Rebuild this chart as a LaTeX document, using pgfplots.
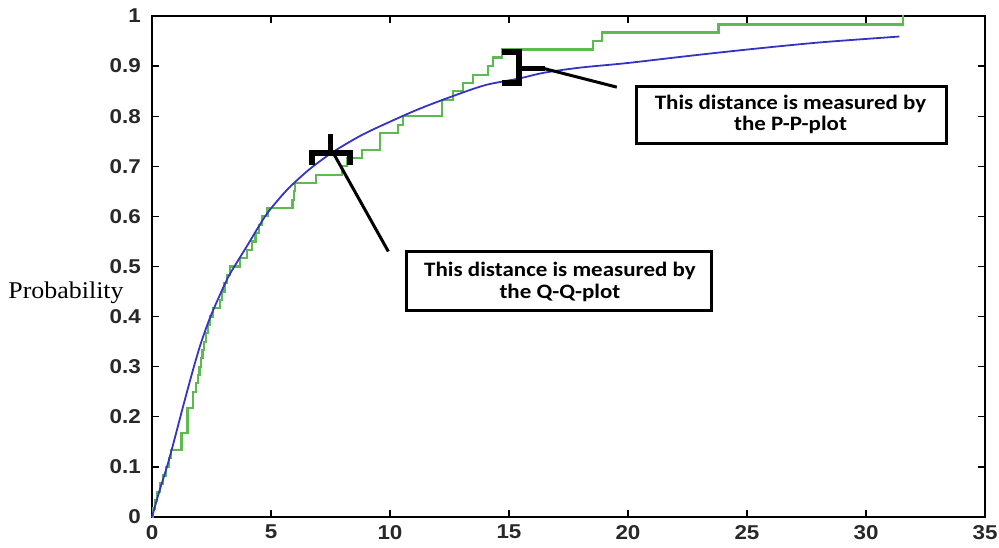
\documentclass[border=0pt]{standalone}
\usepackage{fontspec}
\usepackage{pgfplots}
\pgfplotsset{compat=1.18}
\newfontfamily\tickfont{Liberation Sans}[FakeStretch=1.12]
\newfontfamily\boxfont{Carlito}[FakeStretch=1.12]
\newfontfamily\labfont{Liberation Serif}[FakeStretch=1.08]
\definecolor{mblue}{RGB}{52,52,196}
\definecolor{mgreen}{RGB}{92,186,80}
\definecolor{ticktext}{RGB}{40,40,40}
\begin{document}
\begin{tikzpicture}
\path[use as bounding box] (-152bp,-31bp) rectangle (847bp,517bp);
\begin{axis}[
  at={(0,0)}, anchor=south west,
  scale only axis, width=833bp, height=501bp,
  xmin=0, xmax=35, ymin=0, ymax=1,
  xtick={0,5,10,15,20,25,30,35},
  ytick={0,0.1,0.2,0.3,0.4,0.5,0.6,0.7,0.8,0.9,1},
  xticklabels={0,5,10,15,20,25,30,35},
  yticklabels={0,0.1,0.2,0.3,0.4,0.5,0.6,0.7,0.8,0.9,1},
  tick align=inside, tick pos=both,
  major tick length=7bp,
  axis line style={line width=1.5bp},
  tick style={line width=1.3bp, black},
  tick label style={font=\tickfont\bfseries\fontsize{20bp}{24bp}\selectfont, text=ticktext, inner sep=0pt},
  xticklabel style={yshift=-8bp},
  yticklabel style={xshift=-11bp},
  ylabel={Probability},
  ylabel style={at={(axis description cs:-0.1032,0.447)}, rotate=-90, anchor=center, font=\labfont\fontsize{24bp}{28bp}\selectfont},
  clip=false,
]
\addplot[mgreen, line width=2.2bp, const plot] coordinates {
(0,0) (0.05,0.017) (0.12,0.033) (0.2,0.05) (0.33,0.067) (0.46,0.083)
(0.6,0.1) (0.7,0.117) (0.8,0.133) (1.24,0.167) (1.49,0.217) (1.73,0.25)
(1.85,0.267) (1.92,0.283) (2.0,0.3) (2.05,0.317) (2.12,0.333) (2.2,0.35)
(2.28,0.367) (2.36,0.383) (2.45,0.4) (2.55,0.417) (2.85,0.433) (2.95,0.45)
(3.05,0.467) (3.15,0.483) (3.28,0.5) (3.7,0.517) (3.98,0.533) (4.2,0.55)
(4.35,0.567) (4.5,0.583) (4.62,0.6) (4.85,0.617) (5.9,0.633) (5.95,0.65)
(6.0,0.667) (6.88,0.683) (7.97,0.7) (8.2,0.717) (8.81,0.733) (9.58,0.767)
(10.35,0.783) (10.56,0.8) (12.17,0.833) (12.66,0.85) (13.08,0.867)
(13.5,0.883) (14.13,0.9) (14.34,0.917) (14.69,0.933) (18.54,0.95)
(18.9,0.967) (23.8,0.983) (31.55,1.0) (31.56,1.0)
};
\addplot[mblue, line width=1.8bp, smooth] coordinates {
(0,0) (0.3,0.05) (0.67,0.107) (1.0,0.165) (1.23,0.207) (1.5,0.255)
(1.79,0.305) (2.09,0.352) (2.5,0.405) (3.14,0.473) (3.5,0.503) (3.98,0.54)
(4.75,0.6) (5.3,0.633) (5.8,0.659) (6.64,0.695) (7.62,0.729) (8.8,0.762)
(10,0.789) (11.2,0.814) (12.52,0.838) (14,0.862) (15.4,0.875) (16.5,0.887)
(18,0.897) (19.95,0.906) (22.5,0.92) (25,0.933) (28,0.947) (31.4,0.959)
};
% Q-Q bracket
\draw[line width=6bp] (axis cs:6.71,0.703) -- (axis cs:6.71,0.726) -- (axis cs:8.32,0.726) -- (axis cs:8.32,0.703);
\draw[line width=5bp] (axis cs:7.51,0.726) -- (axis cs:7.51,0.764);
\draw[line width=3bp] (axis cs:7.6,0.728) -- (axis cs:9.93,0.53);
% P-P bracket
\draw[line width=6bp] (axis cs:14.69,0.928) -- (axis cs:15.42,0.928) -- (axis cs:15.42,0.866) -- (axis cs:14.69,0.866);
\draw[line width=5bp] (axis cs:15.42,0.896) -- (axis cs:16.5,0.896);
\draw[line width=3bp] (axis cs:16.4,0.896) -- (axis cs:19.53,0.858);
% boxes
\draw[line width=3bp, fill=white] (axis cs:10.69,0.413) rectangle (axis cs:23.52,0.530);
\draw[line width=3bp, fill=white] (axis cs:20.36,0.7455) rectangle (axis cs:33.39,0.859);
\node[font=\boxfont\bfseries\fontsize{20.5bp}{22bp}\selectfont, anchor=base, inner sep=0pt] at (axis cs:17.14,0.4796) {This distance is measured by};
\node[font=\boxfont\bfseries\fontsize{20.5bp}{22bp}\selectfont, anchor=base, inner sep=0pt] at (axis cs:17.14,0.4365) {the Q-Q-plot};
\node[font=\boxfont\bfseries\fontsize{20.5bp}{22bp}\selectfont, anchor=base, inner sep=0pt] at (axis cs:26.83,0.8124) {This distance is measured by};
\node[font=\boxfont\bfseries\fontsize{20.5bp}{22bp}\selectfont, anchor=base, inner sep=0pt] at (axis cs:26.83,0.771) {the P-P-plot};
\end{axis}
\end{tikzpicture}
\end{document}
